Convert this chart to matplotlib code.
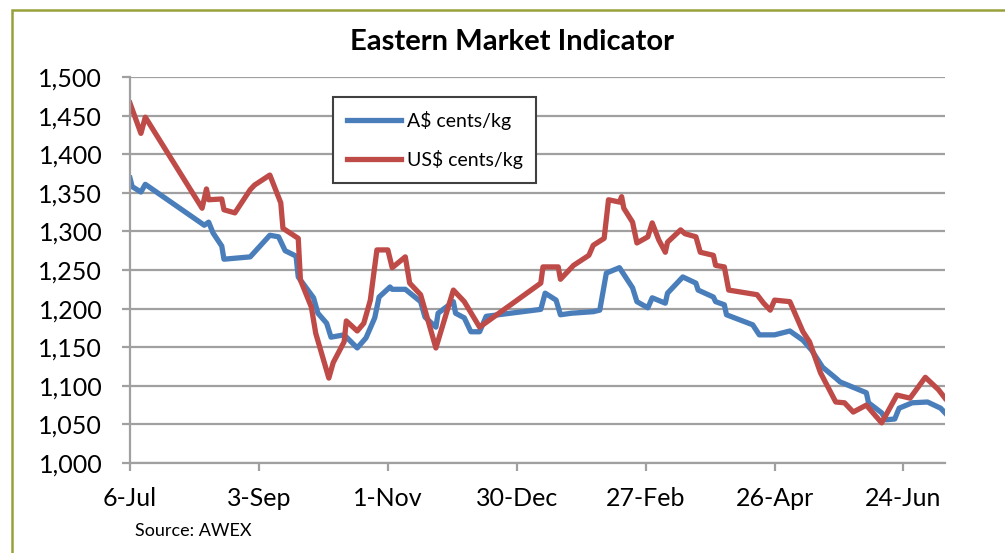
import datetime as dt
import matplotlib
matplotlib.use('Agg')
import matplotlib.pyplot as plt
from matplotlib.patches import Rectangle
from matplotlib.ticker import FuncFormatter

plt.rcParams['font.family'] = ['Lato', 'DejaVu Sans']

start = dt.date(2011, 7, 6)

# days after 6-Jul and values
days_aud = [0, 1, 5, 7, 34, 36, 38, 42, 43, 55, 64, 68, 71, 76, 77, 84, 86, 90, 92, 98,
            104, 108, 112, 114, 119, 120, 126, 133, 135, 140, 141, 148, 149, 153, 156, 160,
            163, 188, 190, 195, 197, 202, 212, 215, 218, 224, 230, 232, 237, 239, 245, 246,
            253, 259, 260, 267, 268, 272, 273, 285, 288, 295, 302, 308, 312, 317, 323, 325,
            337, 338, 344, 346, 350, 352, 358, 365, 371, 373]
aud = [1369, 1358, 1351, 1361, 1308, 1312, 1298, 1281, 1264, 1267, 1295, 1293, 1275, 1268,
       1241, 1214, 1194, 1181, 1163, 1166, 1149, 1162, 1188, 1215, 1228, 1225, 1225, 1209,
       1189, 1176, 1194, 1209, 1194, 1188, 1170, 1170, 1190, 1199, 1220, 1211, 1192, 1194,
       1196, 1198, 1246, 1253, 1227, 1209, 1201, 1214, 1207, 1220, 1241, 1233, 1224, 1215,
       1209, 1205, 1192, 1179, 1166, 1166, 1171, 1159, 1146, 1124, 1110, 1105, 1091, 1078,
       1065, 1056, 1057, 1071, 1078, 1079, 1071, 1065]

days_usd = [0, 5, 7, 33, 35, 36, 42, 43, 48, 55, 57, 64, 69, 70, 77, 78, 83, 85, 91, 93,
            98, 99, 104, 107, 110, 111, 113, 118, 120, 126, 128, 133, 140, 148, 153, 160,
            188, 189, 196, 197, 203, 210, 212, 217, 219, 224, 225, 226, 230, 232, 237, 239,
            242, 245, 246, 252, 254, 259, 261, 267, 268, 272, 274, 287, 290, 293, 295, 302,
            308, 311, 316, 323, 327, 331, 337, 340, 344, 351, 357, 364, 370, 373]
usd = [1466, 1427, 1448, 1330, 1355, 1341, 1342, 1328, 1324, 1354, 1360, 1373, 1337, 1304,
       1291, 1237, 1202, 1168, 1110, 1130, 1157, 1184, 1171, 1181, 1211, 1233, 1276, 1276,
       1253, 1267, 1233, 1218, 1149, 1224, 1209, 1176, 1233, 1254, 1254, 1238, 1256, 1269,
       1282, 1291, 1341, 1338, 1345, 1330, 1312, 1285, 1293, 1311, 1289, 1273, 1286, 1302,
       1297, 1293, 1273, 1269, 1256, 1254, 1224, 1218, 1207, 1198, 1211, 1209, 1170, 1157,
       1117, 1079, 1078, 1066, 1075, 1065, 1052, 1088, 1084, 1111, 1095, 1084]

tick_dates = ['2011-07-06', '2011-09-03', '2011-11-01', '2011-12-30',
              '2012-02-27', '2012-04-26', '2012-06-24']
tick_labels = ['6-Jul', '3-Sep', '1-Nov', '30-Dec', '27-Feb', '26-Apr', '24-Jun']

x_aud = [start + dt.timedelta(days=d) for d in days_aud]
x_usd = [start + dt.timedelta(days=d) for d in days_usd]

fig = plt.figure(figsize=(10.05, 5.53), dpi=100)
fig.patches.append(Rectangle((12 / 1005, -0.1), 1.2, (553 - 10) / 553 + 0.1,
                             transform=fig.transFigure, fill=False,
                             edgecolor='#98a03a', linewidth=1.8))

ax = fig.add_axes([130 / 1005, 90 / 553, 815 / 1005, 386 / 553])
ax.plot(x_aud, aud, color='#4a7ebb', lw=3.8, label='A$ cents/kg', solid_joinstyle='round')
ax.plot(x_usd, usd, color='#be4b48', lw=3.8, label='US$ cents/kg', solid_joinstyle='round')

ax.set_ylim(1000, 1500)
ax.set_yticks(range(1000, 1501, 50))
ax.yaxis.set_major_formatter(FuncFormatter(lambda v, p: f'{int(v):,}'))
ax.set_xlim(start, start + dt.timedelta(days=373.5))
ax.set_xticks([dt.date.fromisoformat(t) for t in tick_dates])
ax.set_xticklabels(tick_labels)

ax.grid(axis='y', color='#a0a0a0', lw=1.6)
ax.set_axisbelow(True)
for s in ['top', 'right']:
    ax.spines[s].set_visible(False)
for s in ['left', 'bottom']:
    ax.spines[s].set_color('#a0a0a0')
    ax.spines[s].set_linewidth(1.6)
ax.tick_params(axis='both', colors='#a0a0a0', width=1.6, length=6, labelcolor='black',
               labelsize=18)
ax.tick_params(axis='y', pad=14)
ax.tick_params(axis='x', pad=11)

fig.text(512 / 1005, 1 - 42 / 553, 'Eastern Market Indicator', ha='center', va='center',
         fontsize=21, fontweight='bold')
fig.text(135 / 1005, 1 - 531 / 553, 'Source: AWEX', ha='left', va='center', fontsize=13)

leg = ax.legend(loc='upper left', bbox_to_anchor=(0.249, 0.948), borderaxespad=0,
                fontsize=14, handlelength=2.8, labelspacing=1.05, borderpad=0.7,
                handletextpad=0.3, fancybox=False, framealpha=1)
leg.get_frame().set_edgecolor('#404040')
leg.get_frame().set_linewidth(1.5)

fig.savefig('out.png', dpi=100)
